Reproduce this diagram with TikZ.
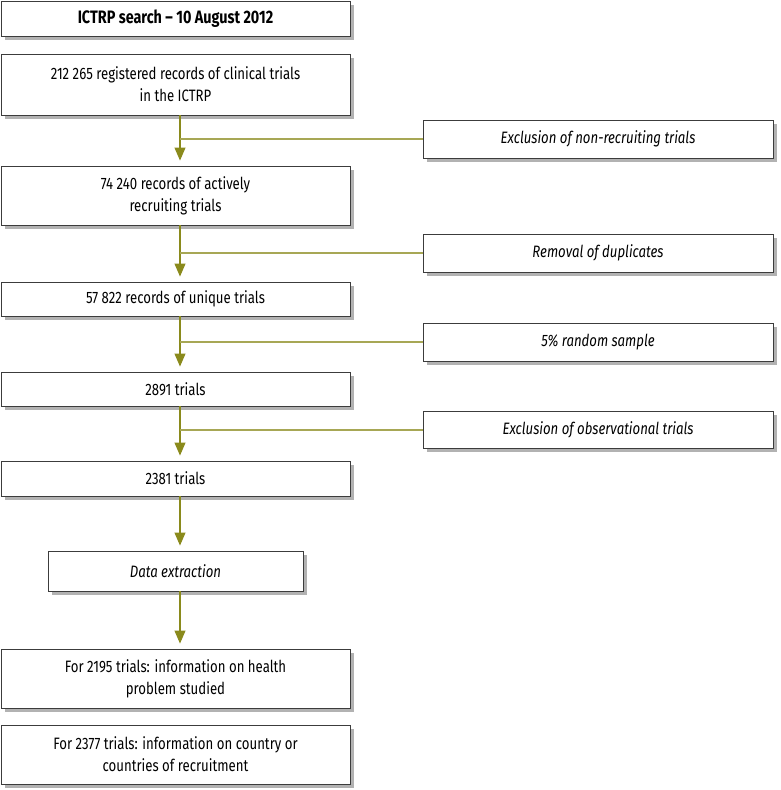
\documentclass[tikz,border=0pt]{standalone}
\usepackage{fontspec}
\setmainfont{Fira Sans}[FakeStretch=0.8]
\usetikzlibrary{shadows,arrows.meta}
\definecolor{olivearr}{HTML}{8A8A1C}
\definecolor{boxline}{HTML}{3C3C3C}
\tikzset{
  box/.style={draw=boxline,fill=white,line width=.9pt,minimum width=349pt,minimum height=#1,
    align=center,inner sep=0pt,font=\fontsize{16.5}{22}\selectfont,
    drop shadow={shadow xshift=3.5pt,shadow yshift=-3.5pt,fill=black!30,opacity=1}},
  box/.default=35pt,
  sidebox/.style={box=#1,minimum width=350pt,font=\fontsize{16.5}{22}\selectfont\itshape},
  sidebox/.default=37pt,
  arr/.style={draw=olivearr,line width=1.1pt,-{Triangle[length=13pt,width=11pt]},shorten >=5pt},
  branch/.style={draw=olivearr!75,line width=1.2pt}
}
\begin{document}
\begin{tikzpicture}[x=1pt,y=-1pt]
  \useasboundingbox (0,0) rectangle (780,790);
  \coordinate (ax) at (180,0);
  % main column
  \node[box,font=\fontsize{18}{22}\selectfont\bfseries] (b1) at (175.5,18.5) {ICTRP search -- 10 August 2012};
  \node[box=61pt] (b2) at (175.5,84.5) {212 265 registered records of clinical trials\\in the ICTRP};
  \node[box=59pt] (b3) at (175.5,195.5) {74 240 records of actively\\recruiting trials};
  \node[box=34pt] (b4) at (175.5,299) {57 822 records of unique trials};
  \node[box=34pt] (b5) at (175.5,389) {2891 trials};
  \node[box] (b6) at (175.5,478.5) {2381 trials};
  \node[box=40pt,minimum width=255pt,font=\fontsize{16.5}{22}\selectfont\itshape] (dx) at (175.5,571) {Data extraction};
  \node[box=59pt] (b7) at (175.5,678.5) {For 2195 trials: information on health\\problem studied};
  \node[box=59pt] (b8) at (175.5,754.5) {For 2377 trials: information on country or\\countries of recruitment};
  % side boxes
  \node[sidebox=38pt] (s1) at (598,139) {Exclusion of non-recruiting trials};
  \node[sidebox=38pt] (s2) at (598,253) {Removal of duplicates};
  \node[sidebox=38pt] (s3) at (598,342) {5\% random sample};
  \node[sidebox] (s4) at (598,430) {Exclusion of observational trials};
  % connectors
  \foreach \a/\b in {b2/b3,b3/b4,b4/b5,b5/b6,b6/dx,dx/b7}
    \draw[arr] (\a.south -| ax) -- (\b.north -| ax);
  \foreach \s in {s1,s2,s3,s4}
    \draw[branch] (\s.west -| ax) -- (\s.west);
\end{tikzpicture}
\end{document}
